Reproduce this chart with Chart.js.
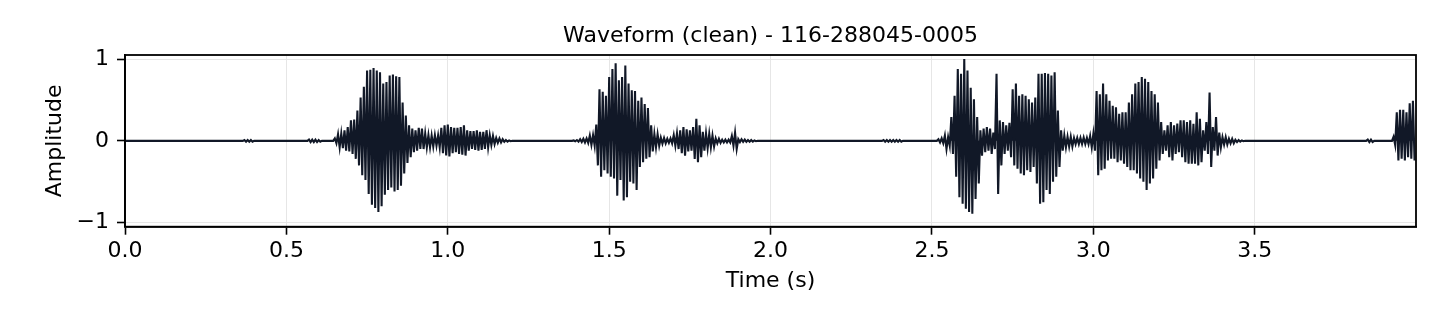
<!DOCTYPE html>
<html lang="en">

<head>
    <meta charset="UTF-8">
    <meta name="viewport" content="width=device-width, initial-scale=1.0">
    <title>Waveform</title>
    <style>
        html, body { margin: 0; padding: 0; background: #fff; }
        #contenedor { width: 1440px; height: 320px; }
    </style>
</head>

<body>
    <div id="contenedor">
        <canvas id="grafico" width="1440" height="320"></canvas>
    </div>

    <script src="https://cdn.jsdelivr.net/npm/chart.js"></script>
    <script>
        const tituloGrafico = "Waveform (clean) - 116-288045-0005"
        const tituloX = "Time (s)"
        const tituloY = "Amplitude"
        const pasoSeg = 0.01   // cada valor = 10 ms de audio
        const ticksX = [0, 0.5, 1, 1.5, 2, 2.5, 3, 3.5]
        const ticksY = [-1, 0, 1]

        // pico superior de cada tramo de 10 ms (una fila = 0.1 s)
        const picosArriba = [
            0, 0, 0, 0, 0, 0, 0, 0, 0, 0,
            0, 0, 0, 0, 0, 0, 0, 0, 0, 0,
            0, 0, 0, 0, 0, 0, 0, 0, 0, 0,
            0, 0, 0, 0, 0, 0, 0, 0.01, 0.01, 0.01,
            0, 0, 0, 0, 0, 0, 0, 0, 0, 0,
            0, 0, 0, 0, 0, 0, 0, 0.015, 0.015, 0.015,
            0.01, 0, 0, 0, 0, 0.03, 0.08, 0.09, 0.13, 0.17,
            0.25, 0.26, 0.37, 0.53, 0.66, 0.86, 0.87, 0.89, 0.86, 0.84,
            0.7, 0.72, 0.8, 0.81, 0.79, 0.78, 0.47, 0.31, 0.19, 0.15,
            0.13, 0.16, 0.15, 0.09, 0.07, 0.065, 0.07, 0.065, 0.16, 0.19,
            0.2, 0.17, 0.16, 0.16, 0.17, 0.19, 0.13, 0.12, 0.12, 0.13,
            0.11, 0.11, 0.13, 0.07, 0.06, 0.035, 0.03, 0.02, 0.01, 0.005,
            0, 0, 0, 0, 0, 0, 0, 0, 0, 0,
            0, 0, 0, 0, 0, 0, 0, 0, 0, 0.005,
            0.01, 0.02, 0.025, 0.03, 0.065, 0.07, 0.2, 0.63, 0.6, 0.55,
            0.78, 0.88, 0.95, 0.74, 0.78, 0.92, 0.7, 0.62, 0.61, 0.49,
            0.53, 0.45, 0.4, 0.19, 0.085, 0.08, 0.04, 0.035, 0.025, 0.03,
            0.07, 0.09, 0.13, 0.17, 0.14, 0.13, 0.17, 0.27, 0.19, 0.11,
            0.09, 0.085, 0.065, 0.03, 0.025, 0.015, 0.015, 0.015, 0.06, 0.1,
            0.02, 0.02, 0.015, 0.01, 0.01, 0.005, 0, 0, 0, 0,
            0, 0, 0, 0, 0, 0, 0, 0, 0, 0,
            0, 0, 0, 0, 0, 0, 0, 0, 0, 0,
            0, 0, 0, 0, 0, 0, 0, 0, 0, 0,
            0, 0, 0, 0, 0, 0.01, 0.01, 0.01, 0.01, 0.01,
            0.01, 0, 0, 0, 0, 0, 0, 0, 0, 0,
            0, 0, 0.02, 0.03, 0.065, 0.045, 0.29, 0.55, 0.88, 0.82,
            1.0, 0.86, 0.65, 0.51, 0.29, 0.13, 0.15, 0.17, 0.15, 0.1,
            0.82, 0.25, 0.23, 0.19, 0.22, 0.63, 0.7, 0.55, 0.57, 0.55,
            0.51, 0.47, 0.53, 0.82, 0.82, 0.83, 0.82, 0.8, 0.84, 0.37,
            0.13, 0.065, 0.05, 0.05, 0.035, 0.035, 0.035, 0.04, 0.035, 0.06,
            0.085, 0.61, 0.57, 0.7, 0.57, 0.49, 0.43, 0.41, 0.33, 0.35,
            0.35, 0.47, 0.57, 0.7, 0.72, 0.78, 0.76, 0.72, 0.61, 0.57,
            0.47, 0.23, 0.13, 0.19, 0.23, 0.19, 0.21, 0.25, 0.25, 0.23,
            0.25, 0.21, 0.35, 0.27, 0.13, 0.23, 0.59, 0.17, 0.29, 0.1,
            0.045, 0.045, 0.025, 0.025, 0.012, 0.01, 0.005, 0, 0, 0,
            0, 0, 0, 0, 0, 0, 0, 0, 0, 0,
            0, 0, 0, 0, 0, 0, 0, 0, 0, 0,
            0, 0, 0, 0, 0, 0, 0, 0, 0, 0,
            0, 0, 0, 0, 0, 0.015, 0.015, 0, 0, 0,
            0, 0, 0, 0.05, 0.35, 0.38, 0.38, 0.35, 0.46, 0.49
        ]

        // pico inferior de cada tramo de 10 ms
        const picosAbajo = [
            0, 0, 0, 0, 0, 0, 0, 0, 0, 0,
            0, 0, 0, 0, 0, 0, 0, 0, 0, 0,
            0, 0, 0, 0, 0, 0, 0, 0, 0, 0,
            0, 0, 0, 0, 0, 0, 0, -0.01, -0.01, -0.01,
            0, 0, 0, 0, 0, 0, 0, 0, 0, 0,
            0, 0, 0, 0, 0, 0, 0, -0.015, -0.015, -0.015,
            -0.01, 0, 0, 0, 0, -0.03, -0.08, -0.09, -0.12, -0.13,
            -0.16, -0.22, -0.3, -0.42, -0.48, -0.65, -0.78, -0.82, -0.87, -0.8,
            -0.66, -0.6, -0.57, -0.62, -0.6, -0.55, -0.4, -0.27, -0.2, -0.14,
            -0.12, -0.1, -0.1, -0.08, -0.08, -0.07, -0.06, -0.08, -0.15, -0.18,
            -0.19, -0.15, -0.14, -0.16, -0.17, -0.18, -0.12, -0.1, -0.11, -0.12,
            -0.11, -0.1, -0.08, -0.05, -0.04, -0.025, -0.02, -0.012, -0.01, -0.005,
            0, 0, 0, 0, 0, 0, 0, 0, 0, 0,
            0, 0, 0, 0, 0, 0, 0, 0, 0, -0.005,
            -0.01, -0.015, -0.02, -0.025, -0.05, -0.06, -0.3, -0.44, -0.36, -0.4,
            -0.44, -0.46, -0.67, -0.48, -0.73, -0.69, -0.5, -0.52, -0.6, -0.32,
            -0.26, -0.22, -0.2, -0.13, -0.08, -0.06, -0.035, -0.03, -0.025, -0.03,
            -0.06, -0.1, -0.15, -0.18, -0.13, -0.12, -0.22, -0.26, -0.2, -0.12,
            -0.09, -0.08, -0.07, -0.03, -0.025, -0.02, -0.02, -0.02, -0.06, -0.1,
            -0.015, -0.012, -0.012, -0.01, -0.01, -0.005, 0, 0, 0, 0,
            0, 0, 0, 0, 0, 0, 0, 0, 0, 0,
            0, 0, 0, 0, 0, 0, 0, 0, 0, 0,
            0, 0, 0, 0, 0, 0, 0, 0, 0, 0,
            0, 0, 0, 0, 0, -0.01, -0.01, -0.01, -0.01, -0.01,
            -0.01, 0, 0, 0, 0, 0, 0, 0, 0, 0,
            0, 0, -0.02, -0.03, -0.1, -0.06, -0.16, -0.44, -0.69, -0.77,
            -0.83, -0.87, -0.89, -0.71, -0.52, -0.18, -0.14, -0.12, -0.16, -0.1,
            -0.65, -0.3, -0.16, -0.12, -0.2, -0.3, -0.34, -0.4, -0.42, -0.36,
            -0.38, -0.32, -0.52, -0.77, -0.75, -0.6, -0.65, -0.5, -0.44, -0.32,
            -0.12, -0.08, -0.07, -0.07, -0.04, -0.04, -0.04, -0.04, -0.04, -0.08,
            -0.12, -0.42, -0.36, -0.34, -0.24, -0.22, -0.22, -0.26, -0.24, -0.28,
            -0.32, -0.36, -0.36, -0.4, -0.46, -0.5, -0.6, -0.52, -0.46, -0.34,
            -0.24, -0.16, -0.12, -0.2, -0.24, -0.16, -0.14, -0.2, -0.26, -0.28,
            -0.28, -0.28, -0.3, -0.26, -0.12, -0.16, -0.32, -0.12, -0.18, -0.08,
            -0.045, -0.045, -0.03, -0.03, -0.015, -0.01, -0.005, 0, 0, 0,
            0, 0, 0, 0, 0, 0, 0, 0, 0, 0,
            0, 0, 0, 0, 0, 0, 0, 0, 0, 0,
            0, 0, 0, 0, 0, 0, 0, 0, 0, 0,
            0, 0, 0, 0, 0, -0.015, -0.015, 0, 0, 0,
            0, 0, 0, -0.05, -0.24, -0.22, -0.24, -0.2, -0.22, -0.24
        ]

        // zigzag arriba/abajo por tramo, asi se ve como la onda
        let puntos = []
        picosArriba.forEach((alto, i) => {
            let t = i * pasoSeg
            puntos.push({ x: t, y: alto })
            puntos.push({ x: t + pasoSeg / 2, y: picosAbajo[i] })
        })

        const fuente = { family: "'DejaVu Sans', sans-serif", size: 22 }

        // titulo centrado sobre el area de ejes + marco completo
        const extras = {
            id: 'extras',
            afterDraw(chart) {
                let { ctx, chartArea } = chart
                ctx.save()
                ctx.font = "22px 'DejaVu Sans', sans-serif"
                ctx.fillStyle = '#000'
                ctx.textAlign = 'center'
                ctx.textBaseline = 'alphabetic'
                ctx.fillText(tituloGrafico, (chartArea.left + chartArea.right) / 2, chartArea.top - 13)
                ctx.strokeStyle = '#000'
                ctx.lineWidth = 1.8
                ctx.strokeRect(chartArea.left, chartArea.top, chartArea.right - chartArea.left, chartArea.bottom - chartArea.top)
                ctx.restore()
            }
        }

        let canvaDom = document.querySelector("#grafico")
        new Chart(canvaDom, {
            type: 'line',
            data: {
                datasets: [{
                    data: puntos,
                    borderColor: '#111827',
                    backgroundColor: '#111827',
                    borderWidth: 2.1,
                    borderJoinStyle: 'miter',
                    pointRadius: 0,
                    tension: 0,
                    fill: 'origin'
                }]
            },
            options: {
                responsive: false,
                animation: false,
                devicePixelRatio: 1,
                layout: { padding: { top: 55, right: 24, left: 0, bottom: 0 } },
                plugins: {
                    legend: { display: false },
                    tooltip: { enabled: false }
                },
                scales: {
                    x: {
                        type: 'linear',
                        min: 0,
                        max: 3.9995,
                        afterBuildTicks: (scale) => { scale.ticks = ticksX.map(v => ({ value: v })) },
                        afterFit: (scale) => { scale.height = 93.3 },
                        ticks: {
                            color: '#000',
                            font: fuente,
                            padding: 3,
                            maxRotation: 0,
                            callback: (v) => Number(v).toFixed(1)
                        },
                        grid: { color: '#e6e6e6', lineWidth: 1, tickColor: '#000', tickLength: 8, tickWidth: 1.6 },
                        border: { display: true, color: '#000', width: 1.8 },
                        title: { display: true, text: tituloX, color: '#000', font: fuente, padding: { top: 0, bottom: 26 } }
                    },
                    y: {
                        min: -1.05,
                        max: 1.05,
                        afterBuildTicks: (scale) => { scale.ticks = ticksY.map(v => ({ value: v })) },
                        afterFit: (scale) => { scale.width = 125 },
                        ticks: {
                            color: '#000',
                            font: fuente,
                            padding: 8,
                            callback: (v) => v < 0 ? '\u2212' + Math.abs(v) : String(v)
                        },
                        grid: { color: '#e6e6e6', lineWidth: 1, tickColor: '#000', tickLength: 8, tickWidth: 1.6 },
                        border: { display: true, color: '#000', width: 1.8 },
                        title: { display: true, text: tituloY, color: '#000', font: fuente, padding: { top: 42, bottom: 0 } }
                    }
                }
            },
            plugins: [extras]
        })
    </script>
</body>

</html>
